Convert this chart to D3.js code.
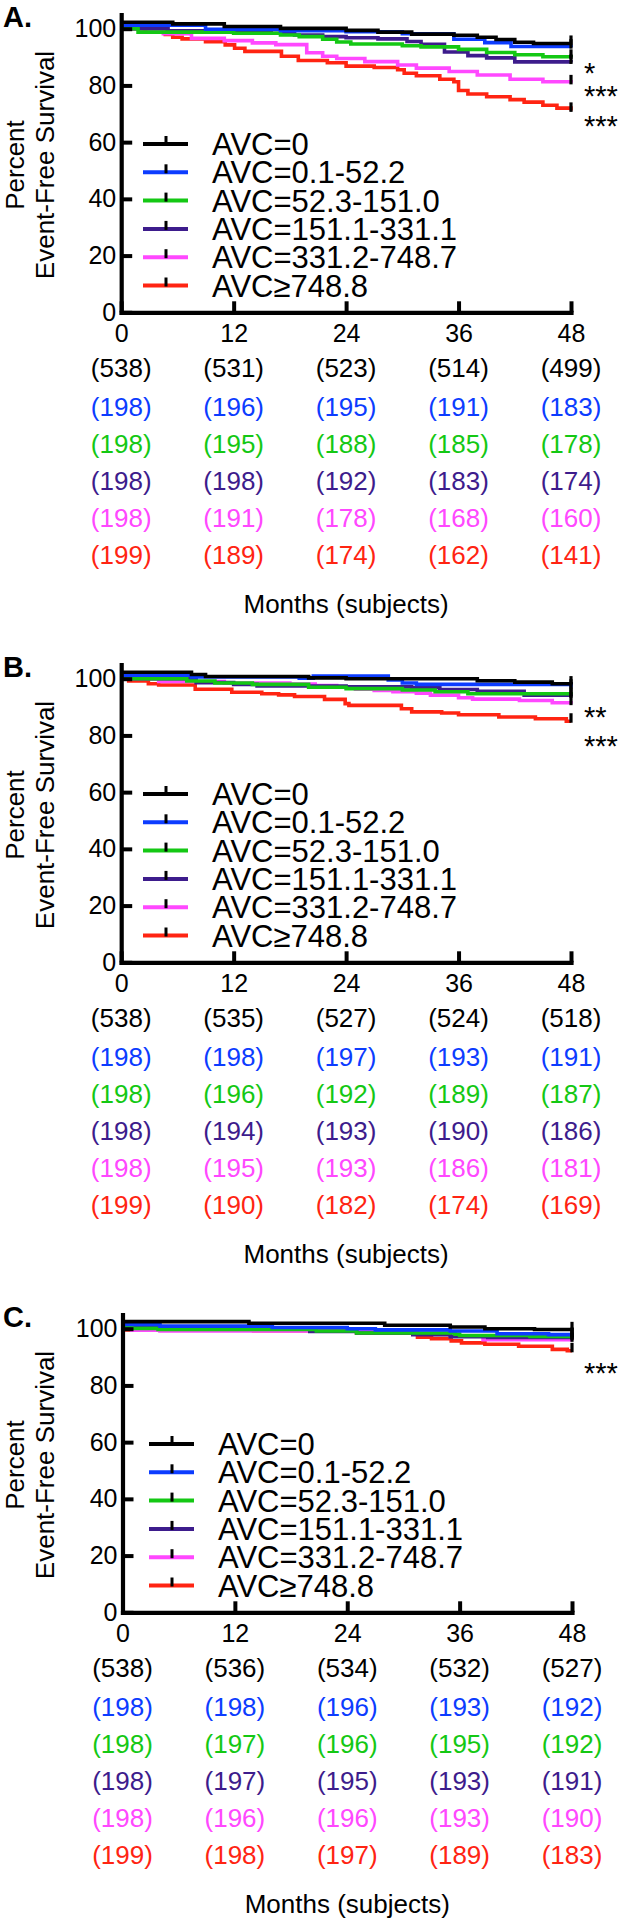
<!DOCTYPE html>
<html><head><meta charset="utf-8">
<script src="https://cdn.jsdelivr.net/npm/d3@7"></script>
<style>
body{margin:0;background:#fff}
svg{display:block}
text{font-family:"Liberation Sans",Arial,Helvetica,sans-serif;fill:#000}
</style>
</head><body>
<svg id="c" width="623" height="1920"></svg>
<script>
// ---------- DATA ----------
const tickMonths = [0, 12, 24, 36, 48];
const yTicks = [0, 20, 40, 60, 80, 100];
const groups = ["AVC=0", "AVC=0.1-52.2", "AVC=52.3-151.0", "AVC=151.1-331.1", "AVC=331.2-748.7", "AVC\u2265748.8"];
const colors = ["#000000", "#0c3cff", "#14c814", "#3d1c8c", "#ff48ff", "#ff2412"];
const panelLabels = ["A.", "B.", "C."];

// Panel A survival (month, percent)
const aBlack  = [[0,102.3],[5.5,101.7],[11,100.8],[17,100.1],[24,99.4],[27.4,98.8],[31,98.1],[35.5,97.7],[38,97.0],[40,96.2],[42,95.2],[44,94.8],[48,94.8]];
const aBlue   = [[0,101.2],[9,99.8],[17,99.3],[24,98.9],[30,98.2],[35.5,96.3],[38.8,95.1],[41.6,93.7],[48,93.5]];
const aGreen  = [[0,100],[1.8,98.8],[12,98.4],[17,97.8],[19,97.2],[21.5,96.3],[23,95.3],[24.5,94.6],[30,94.0],[32,93.6],[36,92.7],[39,91.6],[42,90.8],[45,90.1],[48,89.9]];
const aPurple = [[0,100],[5,99.3],[12,98.8],[16,98.4],[18.5,97.8],[21.5,97.2],[24,96.8],[27.4,96.4],[30.5,95.5],[32,94.5],[34.5,91.8],[37,90.5],[39,89.7],[42,88.3],[48,88.1]];
const aPink   = [[0,100],[3,99.0],[4.5,98.2],[7.5,96.6],[11,95.8],[14,95.0],[16.5,94.4],[19.8,91.5],[21.5,90.3],[23,89.5],[26,88.4],[29.5,87.2],[31.5,86.1],[35,84.9],[38,83.7],[41.5,82.2],[45,81.3],[48,80.9]];
const aRed    = [[0,100],[2.5,99.2],[4.7,98],[5.5,97.0],[6.5,96.4],[9,95.4],[11.1,94.3],[12.1,93.1],[13.2,92.0],[17.1,90.3],[18.9,88.8],[22,88.0],[24,86.8],[27,86.3],[29.5,85.5],[30.2,84.3],[31.5,83.4],[34,82.2],[35.5,81.3],[36,78.2],[37,77.0],[39,76.0],[41.5,75.0],[43,74.1],[45,73.0],[46.5,72.0],[48,71.2]];

// Panel B
const bBlack  = [[0,102.3],[7.5,101.5],[9,100.8],[20,100.3],[24,100.0],[38,99.3],[42,98.8],[46,98.2],[48,98.1]];
const bBlue   = [[0,101.2],[7.5,100.6],[19,100.2],[20.5,100.9],[28.5,99.6],[30,98.5],[31.5,98.0],[48,97.0]];
const bGreen  = [[0,100],[7,99.2],[10,98.5],[14,98.0],[20,97.0],[24,96.5],[30,96.0],[33.5,95.4],[37,94.7],[48,94.4]];
const bPurple = [[0,100],[8,98.6],[12,98.0],[14.5,97.4],[24,97.1],[31,96.8],[34,96.2],[38,95.6],[43,94.2],[48,93.8]];
const bPink   = [[0,100],[4,99.0],[11,98.5],[18,98.1],[20.7,97.6],[23,97.0],[25,96.3],[27,95.9],[29,95.4],[31.5,94.9],[33,94.2],[36,93.3],[37.5,92.8],[42.5,92.3],[46,91.5],[48,91.2]];
const bRed    = [[0,100],[0.8,99.2],[2.9,98.2],[4,97.8],[7.9,96.3],[11.8,95.2],[15,94.7],[16.8,94.3],[18.5,93.7],[21.7,92.7],[23.9,91.2],[24.3,90.6],[29.9,89.4],[31,88.3],[34.2,87.9],[36,87.3],[40.3,86.5],[44.2,85.9],[47.5,85.0],[48,85.0]];

// Panel C
const cBlack  = [[0,102.5],[13.5,101.9],[28,101.2],[35,100.6],[38.7,100.0],[44,99.7],[48,99.6]];
const cBlue   = [[0,101.5],[4,100.9],[16,100.4],[24,100.0],[27,99.6],[35,99.2],[40,98.2],[45.5,97.9],[48,97.6]];
const cGreen  = [[0,100.6],[1,100.1],[3.8,99.7],[20.7,99.2],[25,98.5],[35.5,98.1],[36,97.6],[43.5,97.3],[48,97.0]];
const cPurple = [[0,100.8],[4,100.2],[20,99.0],[25,98.5],[31,97.9],[35,97.2],[39,96.9],[48,96.5]];
const cPink   = [[0,100],[1,99.5],[4,99.2],[31,98.2],[35,97.5],[38.5,96.1],[48,95.9]];
const cRed    = [[0,99.6],[14,99.3],[25,98.5],[31.5,97.0],[33,96.5],[35.1,95.7],[36.2,95.0],[38.7,94.5],[42.3,93.8],[45.9,92.7],[47.5,92.2],[48,92.2]];

// Numbers at risk (rows = groups, columns = tickMonths)
const riskA = [[538,531,523,514,499],[198,196,195,191,183],[198,195,188,185,178],[198,198,192,183,174],[198,191,178,168,160],[199,189,174,162,141]];
const riskB = [[538,535,527,524,518],[198,198,197,193,191],[198,196,192,189,187],[198,194,193,190,186],[198,195,193,186,181],[199,190,182,174,169]];
const riskC = [[538,536,534,532,527],[198,198,196,193,192],[198,197,196,195,192],[198,197,195,193,191],[198,196,196,193,190],[199,198,197,189,183]];

// Significance labels and the survival level they sit at
const sigA = ["*", "***", "***"];
const sigAtA = [86.8, 78.7, 68];
const sigB = ["**", "***"];
const sigAtB = [89, 78.7];
const sigC = ["***"];
const sigAtC = [87];

// ---------- DRAW ----------
const svg = d3.select("#c");
const F = "Liberation Sans, Arial, sans-serif";

const panels = [
  {label: panelLabels[0], curves: [aBlack,aBlue,aGreen,aPurple,aPink,aRed], risk: riskA, sig: sigA, sigAt: sigAtA, off: 0,    left: 121.2, right: 571, ldx: 0},
  {label: panelLabels[1], curves: [bBlack,bBlue,bGreen,bPurple,bPink,bRed], risk: riskB, sig: sigB, sigAt: sigAtB, off: 650,  left: 121.2, right: 571, ldx: 0},
  {label: panelLabels[2], curves: [cBlack,cBlue,cGreen,cPurple,cPink,cRed], risk: riskC, sig: sigC, sigAt: sigAtC, off: 1300, left: 122.5, right: 572, ldx: 6}
];

panels.forEach(p => {
  const g = svg.append("g").attr("transform", `translate(0,${p.off})`);
  const x = d3.scaleLinear().domain([0, 48]).range([p.left, p.right]);
  const y = d3.scaleLinear().domain([0, 105]).range([312.3, 312.3 - 105 * 2.836]);

  // panel label
  g.append("text").attr("x", 3).attr("y", 27).attr("font-size", 29).attr("font-weight", "bold").text(p.label);

  // y title
  g.append("text").attr("transform", "translate(24,165) rotate(-90)").attr("text-anchor", "middle")
    .attr("font-size", 26).text("Percent");
  g.append("text").attr("transform", "translate(53.5,165) rotate(-90)").attr("text-anchor", "middle")
    .attr("font-size", 26).text("Event-Free Survival");

  // curves (red first, black last)
  const line = d3.line().x(d => x(d[0])).y(d => y(d[1])).curve(d3.curveStepAfter);
  for (let i = p.curves.length - 1; i >= 0; i--) {
    g.append("path").datum(p.curves[i]).attr("d", line)
      .attr("fill", "none").attr("stroke", colors[i]).attr("stroke-width", 3.6);
  }
  // censor ticks at end
  p.curves.forEach(c => {
    const last = c[c.length - 1];
    g.append("line").attr("x1", x(last[0])).attr("x2", x(last[0]))
      .attr("y1", y(last[1]) - 8).attr("y2", y(last[1]) + 1.5)
      .attr("stroke", "#000").attr("stroke-width", 3.2);
  });

  // axes
  const yAxis = d3.axisLeft(y).tickValues(yTicks).tickSizeInner(-11).tickSizeOuter(0).tickPadding(5);
  const ya = g.append("g").attr("transform", `translate(${p.left},0)`).call(yAxis);
  const xAxis = d3.axisBottom(x).tickValues(tickMonths).tickSizeInner(-11).tickSizeOuter(0).tickPadding(11.5);
  const xa = g.append("g").attr("transform", `translate(0,${y(0)})`).call(xAxis);
  [ya, xa].forEach(a => {
    a.select(".domain").attr("stroke", "#000").attr("stroke-width", 4.2).attr("stroke-linecap", "square");
    a.selectAll(".tick line").attr("stroke", "#000").attr("stroke-width", 4);
    a.selectAll(".tick text").attr("font-size", 25).attr("font-family", F).attr("fill", "#000");
  });

  // legend
  groups.forEach((name, i) => {
    const ly = 144 + i * 28.3;
    g.append("line").attr("x1", 143 + p.ldx).attr("x2", 188 + p.ldx).attr("y1", ly).attr("y2", ly)
      .attr("stroke", colors[i]).attr("stroke-width", 4);
    g.append("line").attr("x1", 166 + p.ldx).attr("x2", 166 + p.ldx).attr("y1", ly - 8).attr("y2", ly + 1)
      .attr("stroke", "#000").attr("stroke-width", 3);
    g.append("text").attr("x", 212 + p.ldx).attr("y", ly + 11).attr("font-size", 31).text(name);
  });

  // significance
  p.sig.forEach((s, i) => {
    g.append("text").attr("x", 584).attr("y", y(p.sigAt[i]) + 17).attr("font-size", 29).text(s);
  });

  // numbers at risk
  p.risk.forEach((row, r) => {
    const by = r === 0 ? 377 : 416 + (r - 1) * 37.1;
    row.forEach((v, j) => {
      g.append("text").attr("x", x(tickMonths[j])).attr("y", by).attr("text-anchor", "middle")
        .attr("font-size", 26).attr("fill", colors[r]).style("fill", colors[r]).text(`(${v})`);
    });
  });

  g.append("text").attr("x", x(24)).attr("y", 613.3).attr("text-anchor", "middle")
    .attr("font-size", 26).text("Months (subjects)");
});
</script>
</body></html>
